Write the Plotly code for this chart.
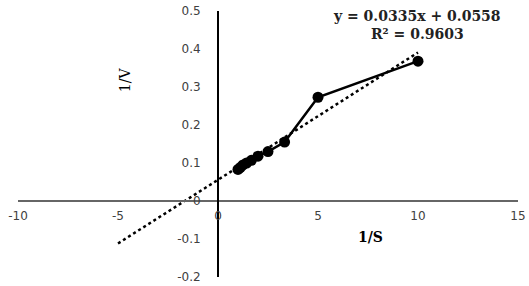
import plotly.graph_objects as go

# Lineweaver-Burk data
inv_s = [1.0, 1.11, 1.25, 1.43, 1.67, 2.0, 2.5, 3.33, 5.0, 10.0]
inv_v = [0.083, 0.088, 0.095, 0.100, 0.107, 0.118, 0.130, 0.155, 0.273, 0.368]

slope = 0.0335
intercept = 0.0558
r2 = 0.9603
trend_x = [-5, 10]
trend_y = [slope * x + intercept for x in trend_x]

x_range = [-10, 15]
y_range = [-0.2, 0.5]
x_ticks = [-10, -5, 0, 5, 10, 15]
x_tick_text = ["-10", "-5", "0", "5", "10", "15"]
y_ticks = [-0.2, -0.1, 0, 0.1, 0.2, 0.3, 0.4, 0.5]
y_tick_text = ["-0.2", "-0.1", "0", "0.1", "0.2", "0.3", "0.4", "0.5"]

serif = "DejaVu Serif"
tick_font = {'family': "DejaVu Sans", 'size': 12, 'color': '#404040'}

fig = go.Figure()
fig.add_trace(go.Scatter(
    x=trend_x, y=trend_y, mode="lines",
    line={'color': 'black', 'width': 2.5, 'dash': 'dot'}))
fig.add_trace(go.Scatter(
    x=inv_s, y=inv_v, mode="lines+markers",
    line={'color': 'black', 'width': 2.5},
    marker={'color': 'black', 'size': 11}))

# trendline label, as Excel shows it
fig.add_annotation(x=9.95, y=0.462,
                   text="<b>y = %.4fx + %.4f<br>R² = %.4f</b>" % (slope, intercept, r2),
                   showarrow=False, align='center',
                   font={'family': serif, 'size': 14, 'color': '#222'})
fig.add_annotation(x=7.6, y=-0.095, text="<b>1/S</b>", showarrow=False,
                   font={'family': serif, 'size': 14, 'color': 'black'})
fig.add_annotation(x=-4.65, y=0.318, text="1/V", showarrow=False, textangle=-90,
                   font={'family': serif, 'size': 14, 'color': 'black'})

x_zero = (0 - y_range[0]) / (y_range[1] - y_range[0])
y_zero = (0 - x_range[0]) / (x_range[1] - x_range[0])

fig.update_layout(
    width=529, height=286,
    margin={'l': 18, 'r': 11, 't': 11, 'b': 9},
    paper_bgcolor='white', plot_bgcolor='white',
    showlegend=False,
    xaxis={'range': x_range, 'tickvals': x_ticks, 'ticktext': x_tick_text,
           'showgrid': False, 'zeroline': False, 'automargin': False,
           'showline': True, 'linecolor': '#666', 'linewidth': 2,
           'anchor': 'free', 'position': x_zero, 'ticks': '',
           'tickfont': tick_font, 'ticklabeloverflow': 'allow',
           'ticklabelstandoff': 4},
    yaxis={'range': y_range, 'tickvals': y_ticks, 'ticktext': y_tick_text,
           'showgrid': False, 'zeroline': False, 'automargin': False,
           'showline': True, 'linecolor': 'black', 'linewidth': 2,
           'anchor': 'free', 'position': y_zero, 'ticks': '',
           'tickfont': tick_font, 'ticklabeloverflow': 'allow',
           'ticklabelstandoff': 14},
)

# drop the default 8px body margin so the figure fills the window
fig.write_html("out.html", config={'displayModeBar': False},
               post_script="document.body.style.margin='0';document.body.style.overflow='hidden';")
